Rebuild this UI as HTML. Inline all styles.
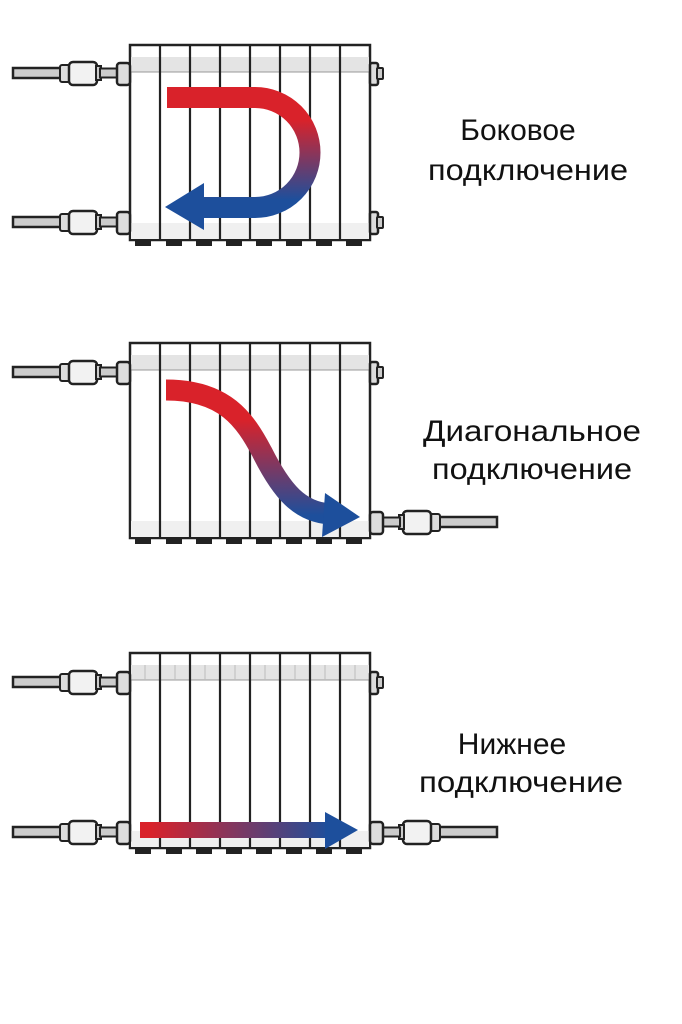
<!DOCTYPE html>
<html><head><meta charset="utf-8"><style>
html,body{margin:0;padding:0;background:#fff;}
svg{display:block;}
text{font-family:"Liberation Sans","DejaVu Sans",sans-serif;fill:#111;}
</style></head><body>
<svg width="682" height="1024" viewBox="0 0 682 1024" xmlns="http://www.w3.org/2000/svg">
<defs>
<linearGradient id="gU" gradientUnits="userSpaceOnUse" x1="0" y1="120" x2="0" y2="200"><stop offset="0" stop-color="#d9222a"/><stop offset="1" stop-color="#1d4f9c"/></linearGradient>
<linearGradient id="gD" gradientUnits="userSpaceOnUse" x1="0" y1="420" x2="0" y2="515"><stop offset="0" stop-color="#d9222a"/><stop offset="1" stop-color="#1d4f9c"/></linearGradient>
<linearGradient id="gH" gradientUnits="userSpaceOnUse" x1="150" y1="0" x2="330" y2="0"><stop offset="0" stop-color="#d9222a"/><stop offset="1" stop-color="#1d4f9c"/></linearGradient>
<g id="pipeL">
<rect x="13" y="-5" width="50" height="10" fill="#ccc" stroke="#222" stroke-width="2.5"/>
<rect x="60" y="-8" width="12" height="17" rx="2" fill="#ddd" stroke="#222" stroke-width="2"/>
<rect x="69" y="-11" width="28" height="23" rx="4" fill="#f2f2f2" stroke="#222" stroke-width="2.5"/>
<rect x="96" y="-7" width="5" height="14" fill="#ccc" stroke="#222" stroke-width="2"/>
<rect x="100" y="-4.5" width="18" height="9" fill="#ccc" stroke="#222" stroke-width="2"/>
<rect x="117" y="-10" width="13" height="22" rx="3" fill="#ddd" stroke="#222" stroke-width="2.5"/>
</g>
<g id="pipeR">
<rect x="430" y="-5" width="67" height="10" fill="#ccc" stroke="#222" stroke-width="2.5"/>
<rect x="428" y="-8" width="12" height="17" rx="2" fill="#ddd" stroke="#222" stroke-width="2"/>
<rect x="403" y="-11" width="28" height="23" rx="4" fill="#f2f2f2" stroke="#222" stroke-width="2.5"/>
<rect x="399" y="-7" width="5" height="14" fill="#ccc" stroke="#222" stroke-width="2"/>
<rect x="382" y="-4.5" width="18" height="9" fill="#ccc" stroke="#222" stroke-width="2"/>
<rect x="370" y="-10" width="13" height="22" rx="3" fill="#ddd" stroke="#222" stroke-width="2.5"/>
</g>
<g id="plug">
<rect x="370" y="-10" width="8" height="22" rx="2" fill="#ddd" stroke="#222" stroke-width="2.5"/>
<rect x="377" y="-5" width="6" height="11" rx="1" fill="#ccc" stroke="#222" stroke-width="2"/>
</g>
<g id="rad">
<g fill="#222">
<rect x="135" y="193" width="16" height="8"/><rect x="166" y="193" width="16" height="8"/><rect x="196" y="193" width="16" height="8"/><rect x="226" y="193" width="16" height="8"/><rect x="256" y="193" width="16" height="8"/><rect x="286" y="193" width="16" height="8"/><rect x="316" y="193" width="16" height="8"/><rect x="346" y="193" width="16" height="8"/>
</g>
<rect x="130" y="0" width="240" height="195" fill="#fff" stroke="#222" stroke-width="2.5"/>
<rect x="131" y="12" width="238" height="15" fill="#e4e4e4"/>
<line x1="131" y1="27" x2="369" y2="27" stroke="#999" stroke-width="1"/>
<rect x="131" y="178" width="238" height="16" fill="#f0f0f0"/>
<g stroke="#222" stroke-width="2.2">
<line x1="160" y1="0" x2="160" y2="195"/><line x1="190" y1="0" x2="190" y2="195"/><line x1="220" y1="0" x2="220" y2="195"/><line x1="250" y1="0" x2="250" y2="195"/><line x1="280" y1="0" x2="280" y2="195"/><line x1="310" y1="0" x2="310" y2="195"/><line x1="340" y1="0" x2="340" y2="195"/>
</g>
</g>
</defs>

<g transform="translate(0,45)">
<use href="#rad"/>
<use href="#pipeL" transform="translate(0,28)"/>
<use href="#pipeL" transform="translate(0,177)"/>
<use href="#plug" transform="translate(0,28)"/>
<use href="#plug" transform="translate(0,177)"/>
</g>
<path d="M167,97.5 H255 A55,55 0 0 1 255,207.5 H200" fill="none" stroke="url(#gU)" stroke-width="21"/>
<polygon points="165,207 204,183 204,230" fill="#1d4f9c"/>
<text x="518" y="140" font-size="30" text-anchor="middle">Боковое</text>
<text x="528" y="180" font-size="30" text-anchor="middle" textLength="200" lengthAdjust="spacingAndGlyphs">подключение</text>

<g transform="translate(0,343)">
<use href="#rad"/>
<use href="#pipeL" transform="translate(0,29)"/>
<use href="#plug" transform="translate(0,29)"/>
<use href="#pipeR" transform="translate(0,179)"/>
</g>
<path d="M166,390 C225,390 245,420 262,452 C282,492 300,512 330,514" fill="none" stroke="url(#gD)" stroke-width="21"/>
<polygon points="360,517 325,493 322,537" fill="#1d4f9c"/>
<text x="532" y="441" font-size="30" text-anchor="middle" textLength="218" lengthAdjust="spacingAndGlyphs">Диагональное</text>
<text x="532" y="479" font-size="30" text-anchor="middle" textLength="200" lengthAdjust="spacingAndGlyphs">подключение</text>

<g transform="translate(0,653)">
<use href="#rad"/>
<g stroke="#bbb" stroke-width="1">
<line x1="145" y1="12" x2="145" y2="27"/><line x1="175" y1="12" x2="175" y2="27"/><line x1="205" y1="12" x2="205" y2="27"/><line x1="235" y1="12" x2="235" y2="27"/><line x1="265" y1="12" x2="265" y2="27"/><line x1="295" y1="12" x2="295" y2="27"/><line x1="325" y1="12" x2="325" y2="27"/><line x1="355" y1="12" x2="355" y2="27"/>
</g>
<use href="#pipeL" transform="translate(0,29)"/>
<use href="#plug" transform="translate(0,29)"/>
<use href="#pipeL" transform="translate(0,179)"/>
<use href="#pipeR" transform="translate(0,179)"/>
</g>
<rect x="140" y="822" width="190" height="16" fill="url(#gH)"/>
<polygon points="358,830 325,812 325,849" fill="#1d4f9c"/>
<text x="512" y="754" font-size="30" text-anchor="middle">Нижнее</text>
<text x="521" y="792" font-size="30" text-anchor="middle" textLength="204" lengthAdjust="spacingAndGlyphs">подключение</text>
</svg>
</body></html>
